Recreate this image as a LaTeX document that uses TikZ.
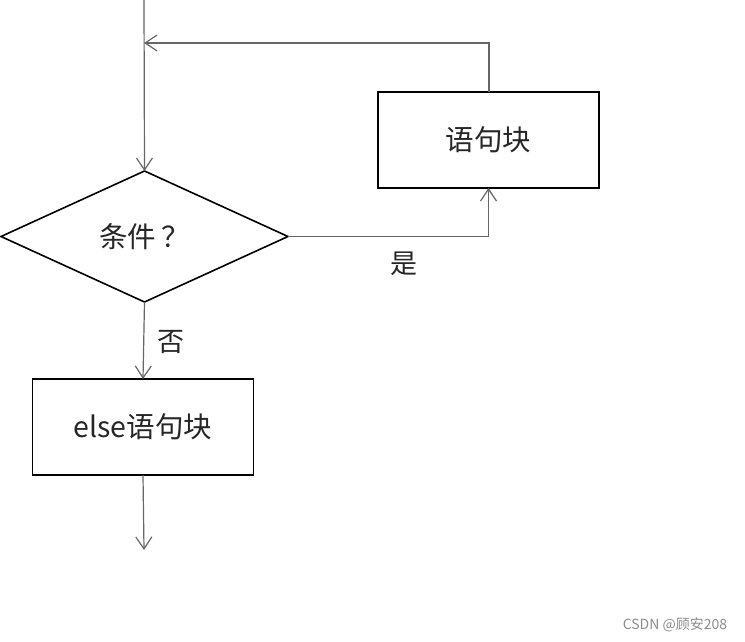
\documentclass[tikz,border=0pt]{standalone}
\usepackage{fontspec}
\newfontfamily\cjk{Noto Sans CJK SC}
\usetikzlibrary{shapes.geometric,arrows.meta}
\begin{document}
\begin{tikzpicture}[x=1pt,y=-1pt,
  blockbox/.style={draw=black,line width=1.6pt,minimum width=221pt,minimum height=96pt,inner sep=0pt,outer sep=0pt,font=\cjk\fontsize{28.5}{32}\selectfont,text=black!85},
  decision/.style={diamond,draw=black,line width=1.6pt,minimum width=287pt,minimum height=131pt,inner sep=0pt,outer sep=0pt,font=\cjk\fontsize{28.5}{32}\selectfont,text=black!85},
  conn/.style={draw=black!60,line width=1.2pt,-{Straight Barb[length=12pt,width=16pt,line width=1.2pt]}},
  lbl/.style={font=\cjk\fontsize{27}{30}\selectfont,text=black!85},
]
\useasboundingbox (0,0) rectangle (745,642);
\coordinate (start) at (144,0);
\node[decision] (cond) at (144.5,236.5) {条件\,？};
\node[blockbox] (body) at (488.5,140) {语句块};
\node[blockbox] (else) at (143,427) {else语句块};
\coordinate (loopturn) at (489,43);
\coordinate (loopend) at (144,43);
\coordinate (finish) at (144,550);
\draw[conn] (start) -- (cond.north);
\draw[conn] (body.north -| loopturn) -- (loopturn) -- (loopend);
\draw[conn] (cond.east) -- (cond.east -| body.south) -- (body.south);
\draw[conn] (cond.south) -- (else.north);
\draw[conn] (else.south) -- (finish);
\node[lbl] (yes) at (404,264) {是};
\node[lbl] (no) at (171,342) {否};
\node[font=\cjk\fontsize{14}{16}\selectfont,text=black!45] (wm) at (675,625) {CSDN @顾安208};
\end{tikzpicture}
\end{document}
